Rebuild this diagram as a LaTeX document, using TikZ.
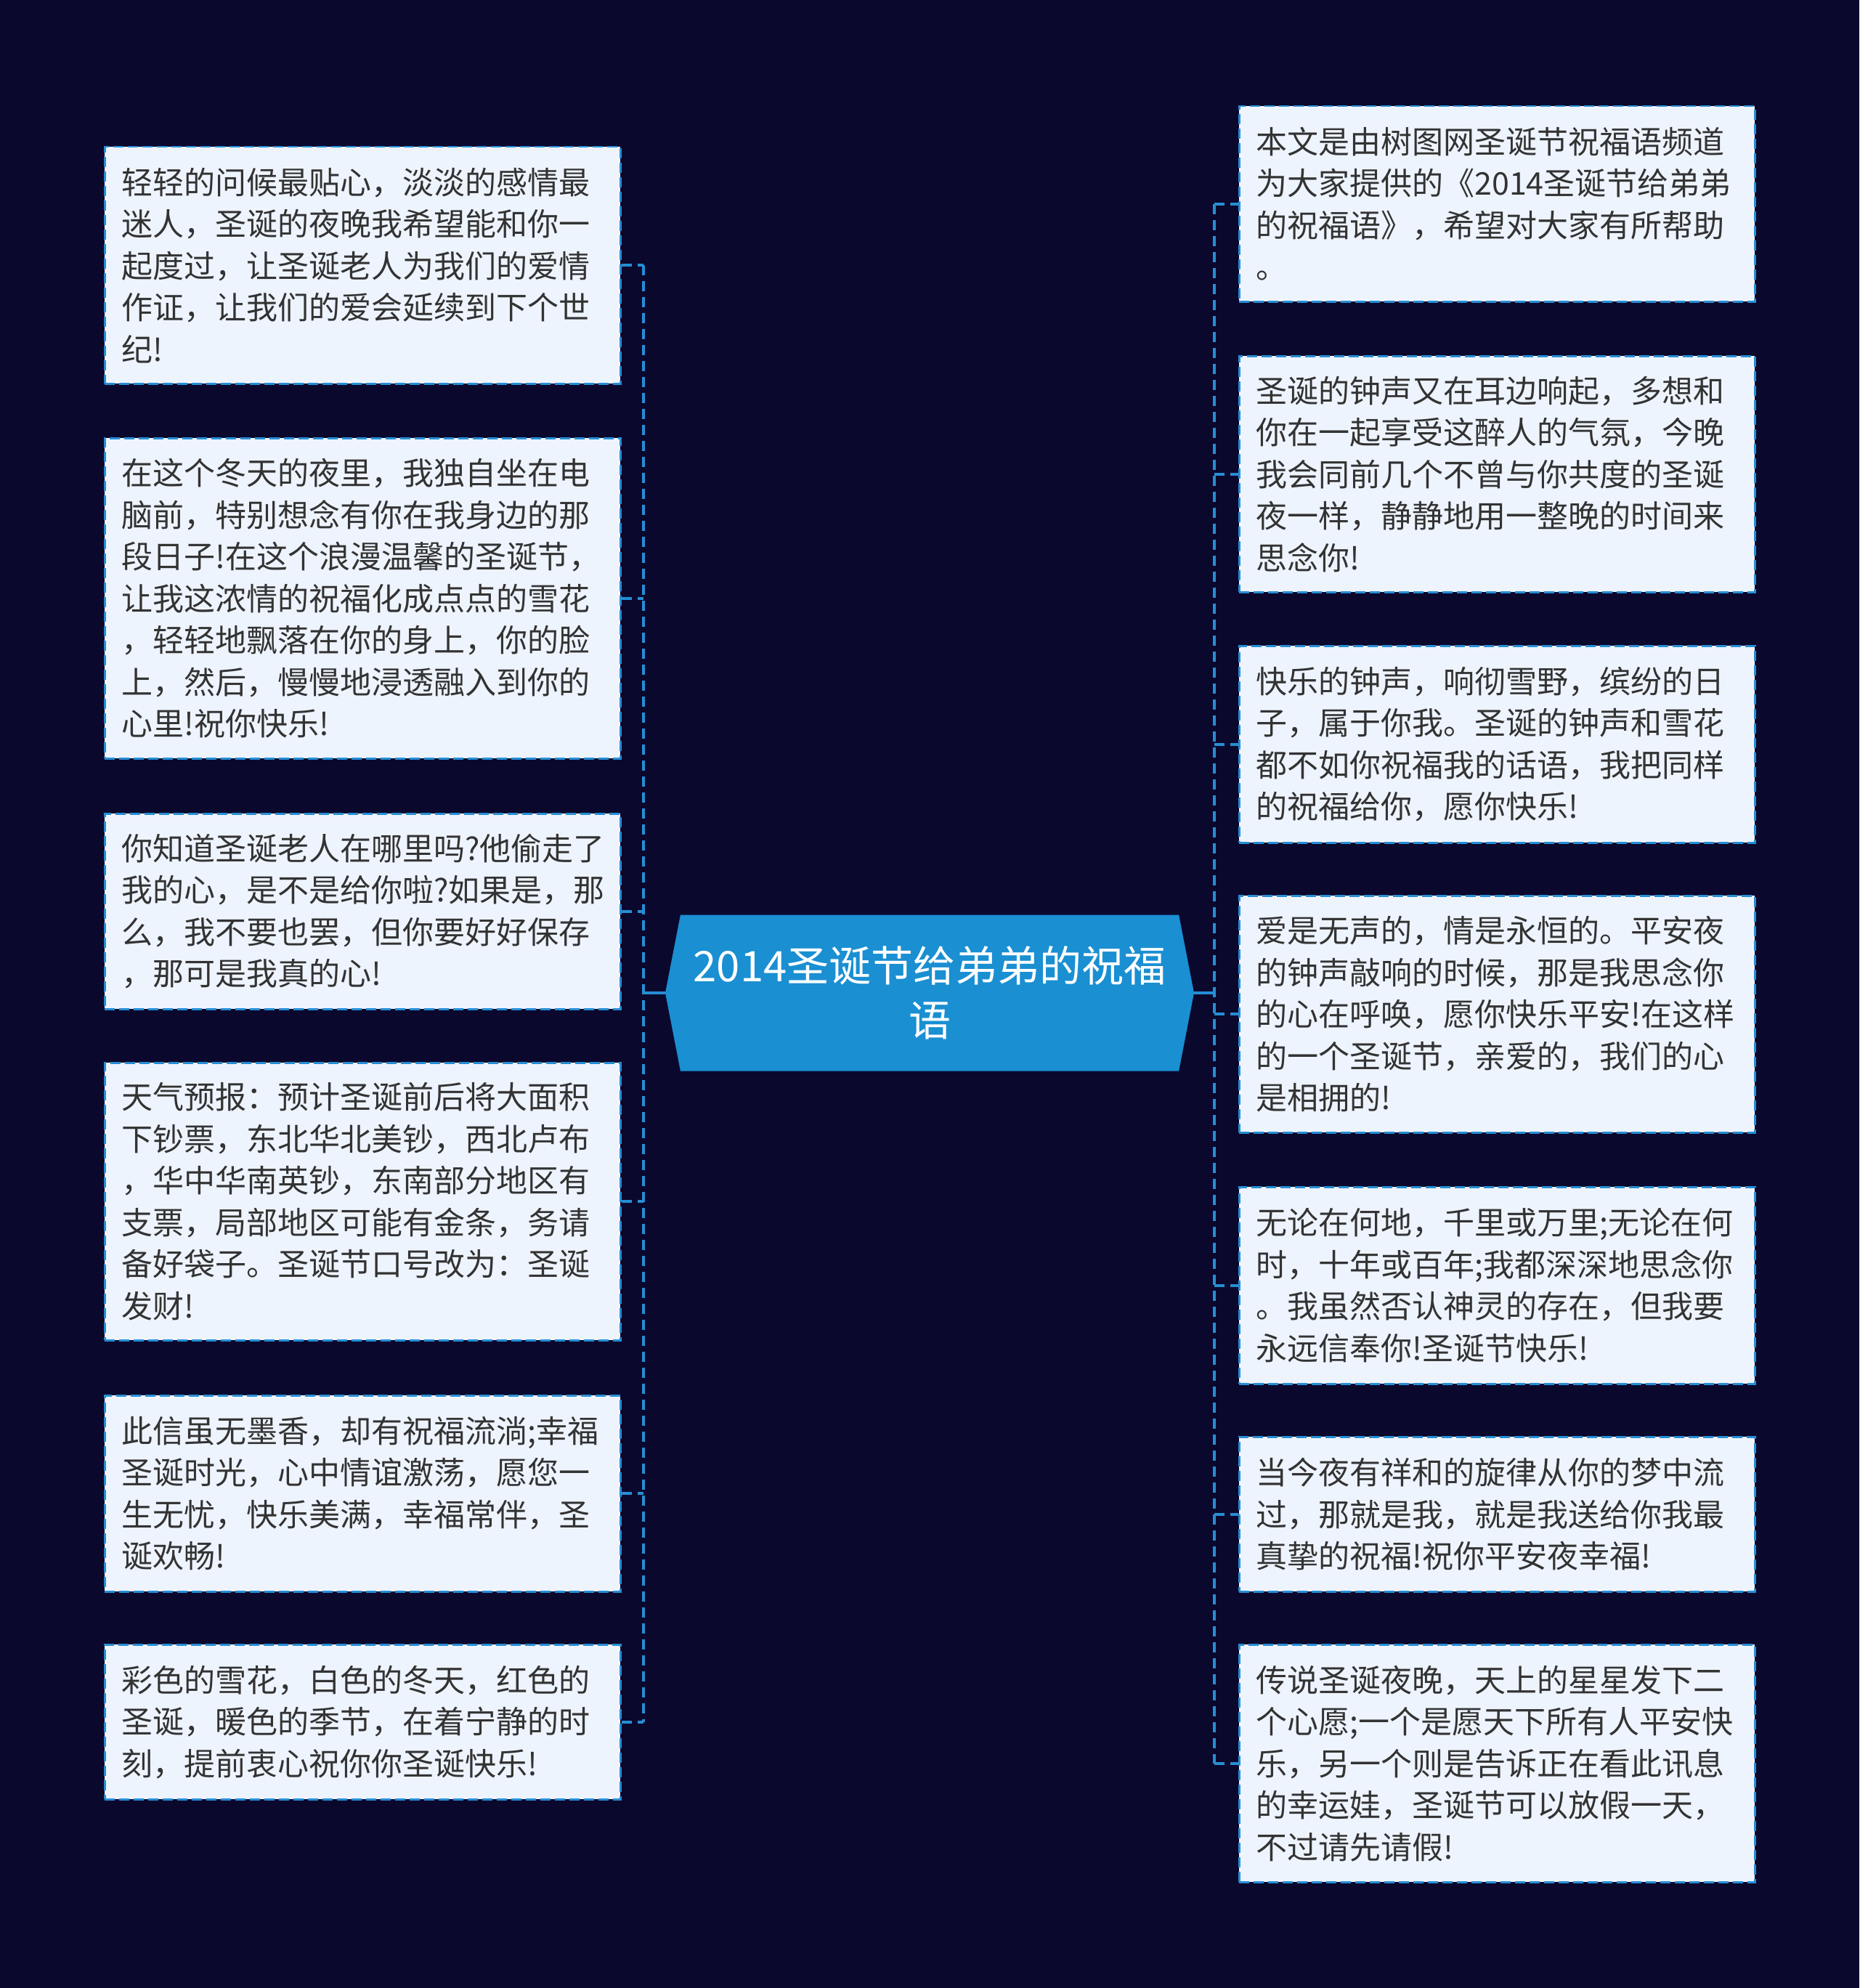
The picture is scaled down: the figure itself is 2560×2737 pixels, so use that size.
\documentclass[tikz,border=0pt]{standalone}
\usepackage{fontspec}
\setmainfont{Noto Sans CJK SC}
\usetikzlibrary{shapes.symbols}

\definecolor{fondo}{RGB}{11,8,46}
\definecolor{caja}{RGB}{238,244,254}
\definecolor{azul}{RGB}{38,142,212}
\definecolor{tema}{RGB}{26,143,210}
\definecolor{letra}{RGB}{51,51,51}

\begin{document}
\begin{tikzpicture}[x=1pt, y=-1pt,
    mensaje/.style={draw=azul, dash pattern=on 14pt off 6pt, line width=2.5pt, fill=caja, text=letra,
      anchor=north west, align=left, text width=664pt, inner xsep=23pt, inner ysep=0pt,
      minimum width=710pt, font=\fontsize{43}{57.5}\selectfont},
    central/.style={signal, signal to=west and east, signal pointer angle=158,
      fill=tema, text=white, align=center, inner sep=0pt,
      minimum width=728pt, minimum height=215pt, font=\fontsize{58}{75}\selectfont},
    rama/.style={azul, dash pattern=on 14pt off 8pt, line width=4pt},
    enlace/.style={azul, line width=4pt}]

  \fill[fondo] (0,0) rectangle (2560,2737); % Fondo
  \useasboundingbox (0,0) rectangle (2560,2737);

  \coordinate (ltrunk) at (886,1367);
  \coordinate (rtrunk) at (1672,1367);

  % Tema central
  \node[central] (tema) at (1280,1367) {2014圣诞节给弟弟的祝福\\语};

  % Mensajes de la izquierda
  \node[mensaje, minimum height=326pt] (L1) at (143,201) {轻轻的问候最贴心，淡淡的感情最\\迷人，圣诞的夜晚我希望能和你一\\起度过，让圣诞老人为我们的爱情\\作证，让我们的爱会延续到下个世\\纪!};
  \node[mensaje, minimum height=441pt] (L2) at (143,602) {在这个冬天的夜里，我独自坐在电\\脑前，特别想念有你在我身边的那\\段日子!在这个浪漫温馨的圣诞节，\\让我这浓情的祝福化成点点的雪花\\，轻轻地飘落在你的身上，你的脸\\上，然后，慢慢地浸透融入到你的\\心里!祝你快乐!};
  \node[mensaje, minimum height=269pt] (L3) at (143,1119) {你知道圣诞老人在哪里吗?他偷走了\\我的心，是不是给你啦?如果是，那\\么，我不要也罢，但你要好好保存\\，那可是我真的心!};
  \node[mensaje, minimum height=382pt] (L4) at (143,1462) {天气预报：预计圣诞前后将大面积\\下钞票，东北华北美钞，西北卢布\\，华中华南英钞，东南部分地区有\\支票，局部地区可能有金条，务请\\备好袋子。圣诞节口号改为：圣诞\\发财!};
  \node[mensaje, minimum height=270pt] (L5) at (143,1920) {此信虽无墨香，却有祝福流淌;幸福\\圣诞时光，心中情谊激荡，愿您一\\生无忧，快乐美满，幸福常伴，圣\\诞欢畅!};
  \node[mensaje, minimum height=213pt] (L6) at (143,2263) {彩色的雪花，白色的冬天，红色的\\圣诞，暖色的季节，在着宁静的时\\刻，提前衷心祝你你圣诞快乐!};

  % Mensajes de la derecha
  \node[mensaje, minimum height=269pt] (R1) at (1705,145) {本文是由树图网圣诞节祝福语频道\\为大家提供的《2014圣诞节给弟弟\\的祝福语》，希望对大家有所帮助\\。};
  \node[mensaje, minimum height=325pt] (R2) at (1705,489) {圣诞的钟声又在耳边响起，多想和\\你在一起享受这醉人的气氛，今晚\\我会同前几个不曾与你共度的圣诞\\夜一样，静静地用一整晚的时间来\\思念你!};
  \node[mensaje, minimum height=271pt] (R3) at (1705,888) {快乐的钟声，响彻雪野，缤纷的日\\子，属于你我。圣诞的钟声和雪花\\都不如你祝福我的话语，我把同样\\的祝福给你，愿你快乐!};
  \node[mensaje, minimum height=326pt] (R4) at (1705,1232) {爱是无声的，情是永恒的。平安夜\\的钟声敲响的时候，那是我思念你\\的心在呼唤，愿你快乐平安!在这样\\的一个圣诞节，亲爱的，我们的心\\是相拥的!};
  \node[mensaje, minimum height=271pt] (R5) at (1705,1633) {无论在何地，千里或万里;无论在何\\时，十年或百年;我都深深地思念你\\。我虽然否认神灵的存在，但我要\\永远信奉你!圣诞节快乐!};
  \node[mensaje, minimum height=213pt] (R6) at (1705,1977) {当今夜有祥和的旋律从你的梦中流\\过，那就是我，就是我送给你我最\\真挚的祝福!祝你平安夜幸福!};
  \node[mensaje, minimum height=327pt] (R7) at (1705,2263) {传说圣诞夜晚，天上的星星发下二\\个心愿;一个是愿天下所有人平安快\\乐，另一个则是告诉正在看此讯息\\的幸运娃，圣诞节可以放假一天，\\不过请先请假!};

  % Conexiones
  \draw[enlace] (tema.west) -- (ltrunk);
  \draw[enlace] (tema.east) -- (rtrunk);
  \draw[rama] (L1.east -| ltrunk) -- (L6.east -| ltrunk); % Tronco izquierdo
  \draw[rama] (R1.west -| rtrunk) -- (R7.west -| rtrunk); % Tronco derecho
  \foreach \n in {L1,L2,L3,L4,L5,L6}
    \draw[rama] (\n.east) -- (\n.east -| ltrunk);
  \foreach \n in {R1,R2,R3,R4,R5,R6,R7}
    \draw[rama] (\n.west -| rtrunk) -- (\n.west);

\end{tikzpicture}
\end{document}
